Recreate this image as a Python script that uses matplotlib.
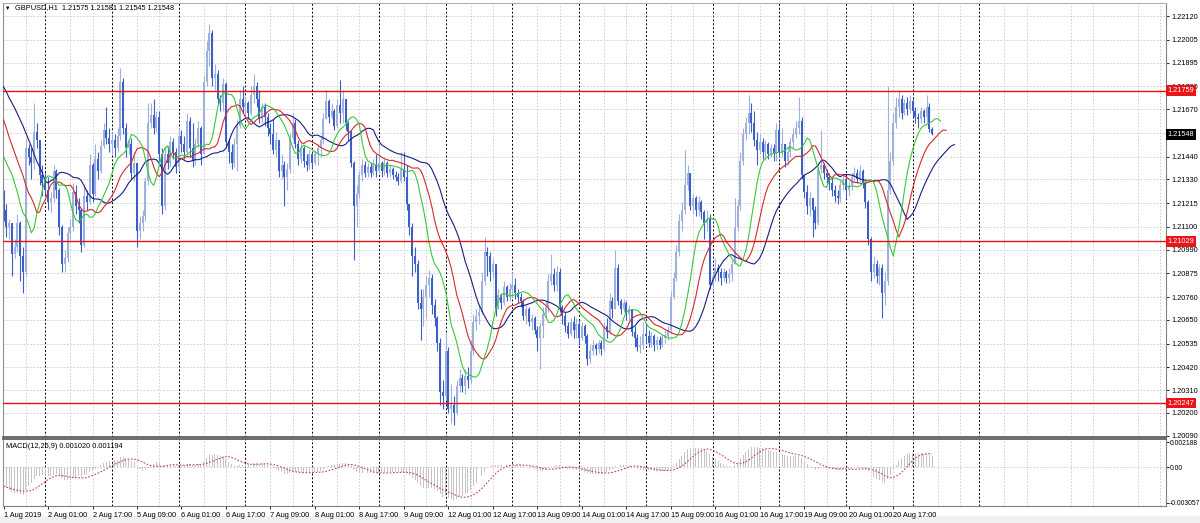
import numpy as np
import pandas as pd
import matplotlib
matplotlib.use("Agg")
import matplotlib.pyplot as plt
import matplotlib.transforms as mtransforms

# GBPUSD H1, 1 Aug 2019 09:00 -> 21 Aug 2019 07:00
# prices in pips above 1.20000 (close / high / low), open = previous close
open_first = 125

c_01 = [118, 110, 112, 97, 100, 112, 96, 88, 148, 144, 141, 156, 152, 135, 131]
h_01 = [128, 121, 114, 112, 104, 116, 113, 100, 153, 150, 148, 170, 160, 152, 140]
l_01 = [113, 105, 104, 86, 95, 98, 84, 78, 86, 140, 133, 138, 148, 130, 125]

c_02 = [128, 122, 124, 137, 128, 110, 92, 95, 107, 110, 127, 120, 118, 101, 125, 122, 140, 126, 143, 137, 149, 157, 153, 150]
h_02 = [136, 134, 127, 140, 138, 129, 111, 99, 110, 114, 131, 130, 124, 119, 130, 128, 145, 141, 150, 146, 152, 160, 168, 158]
l_02 = [126, 118, 117, 122, 124, 106, 88, 88, 93, 104, 108, 116, 112, 98, 100, 118, 121, 122, 125, 133, 136, 148, 150, 146]

c_05 = [152, 148, 154, 180, 158, 148, 150, 136, 141, 108, 112, 115, 132, 160, 164, 158, 163, 145, 120, 145, 141, 151, 146, 139]
h_05 = [156, 155, 158, 187, 182, 160, 152, 153, 146, 140, 115, 118, 134, 170, 170, 172, 166, 166, 148, 149, 149, 154, 153, 148]
l_05 = [145, 144, 146, 152, 155, 144, 145, 133, 132, 100, 104, 108, 113, 130, 158, 155, 156, 142, 116, 118, 138, 139, 143, 136]

c_06 = [154, 150, 146, 161, 148, 142, 150, 158, 145, 180, 195, 204, 182, 184, 172, 170, 179, 151, 146, 141, 150, 159, 172, 168]
h_06 = [158, 157, 154, 165, 163, 160, 153, 161, 159, 183, 200, 208, 205, 189, 186, 174, 182, 180, 153, 150, 153, 162, 176, 178]
l_06 = [137, 146, 143, 145, 144, 139, 140, 148, 140, 145, 178, 188, 178, 176, 169, 166, 166, 149, 141, 138, 139, 137, 158, 165]

c_07 = [170, 165, 174, 178, 172, 162, 168, 163, 158, 155, 147, 152, 137, 140, 134, 138, 153, 160, 150, 143, 148, 142, 140, 145]
h_07 = [173, 171, 178, 184, 180, 176, 170, 170, 165, 160, 162, 156, 150, 145, 142, 141, 155, 165, 162, 152, 151, 149, 145, 147]
l_07 = [163, 162, 164, 170, 168, 160, 160, 159, 154, 150, 145, 144, 134, 133, 120, 128, 136, 152, 148, 140, 141, 139, 137, 138]

c_08 = [141, 145, 148, 152, 162, 171, 163, 166, 159, 169, 165, 172, 160, 156, 141, 120, 126, 135, 140, 136, 139, 136, 140, 137]
h_08 = [146, 147, 150, 154, 165, 176, 172, 170, 167, 172, 181, 176, 172, 161, 157, 142, 130, 137, 143, 142, 141, 141, 143, 145]
l_08 = [138, 140, 140, 144, 150, 162, 160, 162, 157, 158, 160, 160, 157, 152, 139, 94, 110, 124, 132, 134, 134, 134, 135, 134]

c_09 = [141, 137, 141, 136, 138, 135, 134, 132, 138, 134, 121, 110, 96, 92, 73, 70, 76, 82, 85, 72, 66, 54, 30, 28]
h_09 = [150, 142, 143, 142, 140, 139, 137, 136, 146, 146, 140, 121, 112, 100, 94, 80, 80, 86, 89, 87, 75, 67, 56, 36]
l_09 = [136, 134, 135, 134, 134, 133, 132, 130, 131, 132, 118, 106, 86, 88, 70, 55, 62, 66, 76, 68, 62, 50, 24, 22]

c_12 = [50, 22, 24, 20, 33, 37, 33, 38, 36, 50, 64, 67, 69, 84, 98, 96, 88, 92, 70, 77, 73, 81, 76, 80]
h_12 = [59, 52, 34, 28, 36, 41, 39, 41, 42, 55, 68, 70, 72, 88, 105, 100, 98, 95, 90, 80, 78, 84, 82, 83]
l_12 = [26, 20, 15, 14, 19, 30, 30, 29, 32, 34, 48, 60, 63, 68, 82, 86, 84, 85, 67, 70, 70, 72, 74, 74]

c_13 = [82, 78, 76, 74, 67, 70, 64, 66, 60, 56, 62, 68, 71, 84, 87, 82, 88, 71, 67, 62, 58, 64, 60, 63]
h_13 = [88, 85, 80, 78, 75, 72, 71, 68, 67, 62, 64, 71, 74, 87, 97, 90, 91, 90, 72, 69, 64, 66, 67, 66]
l_13 = [76, 75, 73, 71, 65, 63, 62, 60, 58, 50, 41, 56, 66, 69, 82, 79, 79, 69, 63, 59, 56, 57, 56, 56]

c_14 = [56, 62, 57, 46, 50, 53, 51, 54, 51, 62, 59, 74, 70, 90, 74, 70, 73, 68, 70, 59, 56, 52, 53, 58]
h_14 = [65, 64, 63, 58, 53, 55, 54, 55, 55, 64, 66, 78, 76, 99, 92, 75, 75, 74, 72, 70, 62, 58, 57, 64]
l_14 = [53, 55, 54, 43, 44, 48, 48, 49, 48, 50, 56, 58, 66, 70, 72, 68, 69, 65, 65, 57, 52, 50, 49, 51]

c_15 = [57, 54, 57, 53, 55, 53, 56, 57, 60, 76, 85, 98, 113, 118, 130, 136, 120, 124, 118, 122, 117, 112, 114, 82]
h_15 = [63, 60, 59, 58, 57, 57, 58, 60, 62, 79, 88, 101, 116, 122, 147, 140, 136, 126, 125, 125, 123, 118, 118, 116]
l_15 = [54, 52, 52, 50, 51, 51, 52, 54, 55, 58, 75, 84, 96, 108, 116, 128, 118, 116, 115, 115, 114, 104, 108, 80]

c_16 = [86, 90, 88, 85, 88, 85, 87, 92, 110, 120, 142, 155, 160, 165, 160, 152, 147, 151, 146, 150, 145, 148, 145, 157]
h_16 = [88, 95, 92, 90, 90, 89, 90, 94, 124, 123, 146, 158, 163, 174, 170, 166, 156, 155, 153, 152, 151, 150, 150, 160]
l_16 = [79, 84, 84, 82, 84, 83, 83, 84, 92, 108, 118, 140, 152, 155, 156, 149, 140, 145, 143, 144, 143, 144, 142, 142]

c_19 = [146, 150, 142, 146, 151, 155, 158, 161, 135, 127, 120, 124, 118, 112, 138, 140, 136, 134, 131, 128, 125, 124, 130, 133]
h_19 = [160, 158, 150, 149, 153, 158, 161, 173, 163, 135, 130, 127, 124, 120, 141, 157, 141, 138, 136, 134, 130, 128, 132, 135]
l_19 = [144, 144, 139, 140, 144, 148, 153, 155, 133, 124, 116, 115, 105, 109, 111, 136, 133, 131, 128, 125, 122, 121, 122, 128]

c_20 = [128, 130, 134, 136, 133, 137, 131, 122, 104, 88, 92, 86, 90, 78, 84, 128, 142, 160, 168, 172, 165, 170, 167, 171]
h_20 = [134, 132, 136, 139, 138, 140, 138, 132, 123, 105, 96, 94, 92, 92, 88, 178, 146, 165, 173, 176, 174, 172, 173, 174]
l_20 = [124, 125, 128, 132, 131, 132, 129, 119, 101, 84, 85, 83, 82, 66, 72, 82, 126, 140, 158, 163, 162, 164, 164, 165]

c_21 = [166, 163, 162, 166, 163, 168, 157.5, 154.8]
h_21 = [172, 168, 165, 168, 167, 174, 170, 158.1]
l_21 = [163, 160, 158, 160, 160, 160, 156, 154.5]

# Alligator values on the first bars (come from bars before the window)
jaw_lead = [177.7, 175.3, 172.4, 170.0, 167.5, 164.6, 161.7, 158.8, 155.5]
teeth_lead = [161.7, 157.8, 153.4, 149.6, 145.7, 142.0]
lips_lead = [144.0, 141.0, 138.0, 135.5]
# MACD EMA states at the first bar
ema12_start = 1.21500
ema26_start = 1.21660

levels = [1.21759, 1.21029, 1.20247]
last_price = 1.21548

price_ticks = [1.22120, 1.22005, 1.21895, 1.21780, 1.21670, 1.21555, 1.21440, 1.21330,
               1.21215, 1.21100, 1.20990, 1.20875, 1.20760, 1.20650, 1.20535, 1.20420,
               1.20310, 1.20200, 1.20090]
price_labels = ["1.22120", "1.22005", "1.21895", "1.21780", "1.21670", "", "1.21440", "1.21330",
                "1.21215", "1.21100", "1.20990", "1.20875", "1.20760", "1.20650", "1.20535", "1.20420",
                "1.20310", "1.20200", "1.20090"]
time_labels = ["1 Aug 2019", "2 Aug 01:00", "2 Aug 17:00", "5 Aug 09:00", "6 Aug 01:00",
               "6 Aug 17:00", "7 Aug 09:00", "8 Aug 01:00", "8 Aug 17:00", "9 Aug 09:00",
               "12 Aug 01:00", "12 Aug 17:00", "13 Aug 09:00", "14 Aug 01:00", "14 Aug 17:00",
               "15 Aug 09:00", "16 Aug 01:00", "16 Aug 17:00", "19 Aug 09:00", "20 Aug 01:00",
               "20 Aug 17:00"]

days_c = [c_01, c_02, c_05, c_06, c_07, c_08, c_09, c_12, c_13, c_14, c_15, c_16, c_19, c_20, c_21]
days_h = [h_01, h_02, h_05, h_06, h_07, h_08, h_09, h_12, h_13, h_14, h_15, h_16, h_19, h_20, h_21]
days_l = [l_01, l_02, l_05, l_06, l_07, l_08, l_09, l_12, l_13, l_14, l_15, l_16, l_19, l_20, l_21]
for a, b, d in zip(days_c, days_h, days_l):
    assert len(a) == len(b) == len(d), (len(a), len(b), len(d))

pip = 0.0001
close = 1.2 + np.concatenate(days_c) * pip
high = 1.2 + np.concatenate(days_h) * pip
low = 1.2 + np.concatenate(days_l) * pip
opn = np.r_[1.2 + open_first * pip, close[:-1]]
high = np.maximum(high, np.maximum(opn, close))
low = np.minimum(low, np.minimum(opn, close))
n = len(close)
x = np.arange(n)

# Alligator (SMMA of median price, shifted)
median = (high + low) / 2

def alligator(lead, period):
    shift = len(lead) - 1
    s = np.empty(n)
    s[0] = 1.2 + lead[-1] * pip
    for t in range(1, n):
        s[t] = (s[t - 1] * (period - 1) + median[t]) / period
    xs = np.r_[np.arange(shift), x + shift]
    ys = np.r_[1.2 + np.array(lead[:-1]) * pip, s]
    return xs, ys

jaw = alligator(jaw_lead, 13)
teeth = alligator(teeth_lead, 8)
lips = alligator(lips_lead, 5)

# MACD(12,26,9)
e12 = np.empty(n); e26 = np.empty(n)
e12[0], e26[0] = ema12_start, ema26_start
for t in range(1, n):
    e12[t] = e12[t - 1] + 2 / 13 * (close[t] - e12[t - 1])
    e26[t] = e26[t - 1] + 2 / 27 * (close[t] - e26[t - 1])
macd = e12 - e26
signal = pd.Series(macd).rolling(9, min_periods=1).mean().values

# ---- drawing ----
plt.rcParams['font.family'] = ['Liberation Sans', 'DejaVu Sans']
W, H = 1200, 523
fig = plt.figure(figsize=(W / 100, H / 100), dpi=100, facecolor='white')

def box(l, t, r, b):
    return [l / W, 1 - b / H, (r - l) / W, (b - t) / H]

fig.patches.append(plt.Rectangle((0, 0), 1, 7 / H, transform=fig.transFigure, color='#f0f0f0', zorder=-1))
ax = fig.add_axes(box(3, 3, 1166, 437))
axm = fig.add_axes(box(3, 439, 1166, 506), sharex=ax)

grid_col = '#c8c8c8'
bull_col = '#9fb1da'
bear_col = '#3a60c8'
x_right = 418.1

for a in (ax, axm):
    a.set_facecolor('white')
    for b in range(8, 420, 8):
        if (b - 16) % 24 == 0:
            continue
        a.axvline(b, color=grid_col, lw=0.6, ls=(0, (2, 2)), zorder=0)
    for b in range(15, 352, 24):
        a.axvline(b, color='black', lw=0.7, ls=(0, (2, 2)), zorder=0.5)
    a.spines['left'].set_color('#909090')
    a.spines['right'].set_color('#808080')
    a.spines['top'].set_color('#b0b0b0')
    a.spines['bottom'].set_color('#808080')
    a.yaxis.tick_right()
    a.tick_params(axis='y', length=2, width=0.6, pad=2, labelsize=5.3, colors='black')

ax.spines['bottom'].set_color('#606060')
ax.spines['bottom'].set_linewidth(1.3)
axm.spines['top'].set_color('#606060')
axm.spines['top'].set_linewidth(1.3)

# price panel
ax.set_yticks(price_ticks)
ax.set_yticklabels(price_labels)
ax.grid(axis='y', color=grid_col, lw=0.6, ls=(0, (2, 2)), zorder=0)
ax.set_ylim(1.20083, 1.22183)
ax.set_xlim(-0.2, x_right)
ax.tick_params(axis='x', bottom=False, labelbottom=False)

up = close >= opn
body_lo = np.minimum(opn, close)
body_h = np.maximum(np.abs(close - opn), 0.000025)
for mask, col in ((up, bull_col), (~up, bear_col)):
    ax.vlines(x[mask], low[mask], high[mask], color=col, lw=0.8, zorder=2)
    ax.bar(x[mask], body_h[mask], bottom=body_lo[mask], width=0.72, color=col, lw=0, zorder=2)

ax.plot(*jaw, color='#1c1c80', lw=0.8, zorder=3)
ax.plot(*teeth, color='#d42a2a', lw=0.8, zorder=3)
ax.plot(*lips, color='#38c838', lw=0.8, zorder=3)

for lv in levels:
    ax.axhline(lv, color='#e81010', lw=1.0, zorder=3)

tr = mtransforms.blended_transform_factory(ax.transAxes, ax.transData)
for lv in levels:
    ax.text(1.0012, lv, f"{lv:.5f}", transform=tr, fontsize=5.3, color='white', va='center', ha='left',
            bbox=dict(boxstyle='square,pad=0.25', fc='#e8161b', ec='none'), zorder=5)
ax.text(1.0012, last_price, f"{last_price:.5f}", transform=tr, fontsize=5.3, color='white', va='center',
        ha='left', bbox=dict(boxstyle='square,pad=0.25', fc='black', ec='none'), zorder=5)

fig.text(5 / W, 1 - 8 / H, "▼", fontsize=4, va='center', ha='left')
fig.text(15 / W, 1 - 8 / H, "GBPUSD,H1  1.21575 1.21581 1.21545 1.21548", fontsize=5.3,
         va='center', ha='left')

# MACD panel
axm.bar(x, macd, width=0.35, color='#c4c4c4', lw=0, zorder=1)
axm.plot(x, signal, color='#c04848', lw=0.8, ls=(0, (1.5, 1.5)), zorder=2)
axm.axhline(0, color=grid_col, lw=0.6, ls=(0, (2, 2)), zorder=0)
axm.set_ylim(-0.00332, 0.00245)
axm.set_yticks([0.002188, 0.0, -0.003057])
axm.set_yticklabels(["0.002188", "0.00", "-0.003057"])
axm.tick_params(axis='y', labelsize=4.9, pad=1)
axm.set_xticks(np.arange(0, 321, 16))
axm.set_xticklabels(time_labels, ha='left', fontsize=5.3)
axm.tick_params(axis='x', length=2, width=0.6, pad=2)
fig.text(6 / W, 1 - 446 / H, "MACD(12,26,9) 0.001020 0.001194", fontsize=5.3, va='center', ha='left')

fig.savefig("out.png", dpi=100, facecolor='white')
